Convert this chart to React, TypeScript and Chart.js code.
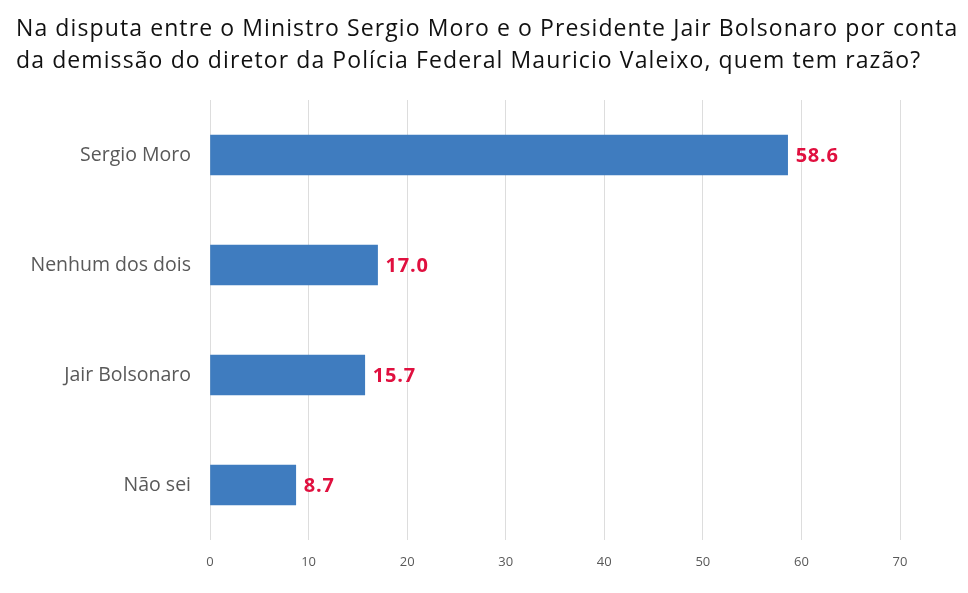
import React, { useEffect, useRef } from "react";
import { Chart, registerables } from "chart.js";

Chart.register(...registerables);

const titleLines = [
  "Na disputa entre o Ministro Sergio Moro e o Presidente Jair Bolsonaro por conta",
  "da demissão do diretor da Polícia Federal Mauricio Valeixo, quem tem razão?",
];
const categories = ["Sergio Moro", "Nenhum dos dois", "Jair Bolsonaro", "Não sei"];
const values = [58.6, 17.0, 15.7, 8.7];
const xTicks = [0, 10, 20, 30, 40, 50, 60, 70];

const FONT = "'Open Sans', Lato, sans-serif";

const titlePlugin = {
  id: "customTitle",
  afterDraw(chart: any) {
    const ctx = chart.ctx;
    ctx.save();
    ctx.font = `23px ${FONT}`;
    (ctx as any).letterSpacing = "1.1px";
    ctx.fillStyle = "#111111";
    ctx.textAlign = "left";
    ctx.textBaseline = "alphabetic";
    titleLines.forEach((line, i) => {
      ctx.fillText(line, 16, 36 + i * 32);
    });
    ctx.restore();
  },
};

const valueLabels = {
  id: "valueLabels",
  afterDatasetsDraw(chart: any) {
    const ctx = chart.ctx;
    const meta = chart.getDatasetMeta(0);
    ctx.save();
    ctx.font = `bold 20px ${FONT}`;
    (ctx as any).letterSpacing = "0.8px";
    ctx.fillStyle = "#e0103f";
    ctx.textAlign = "left";
    ctx.textBaseline = "middle";
    meta.data.forEach((el: any, i: number) => {
      ctx.fillText(values[i].toFixed(1), el.x + 8, el.y + 1);
    });
    ctx.restore();
  },
};

export default function App() {
  const ref = useRef<HTMLCanvasElement>(null);
  useEffect(() => {
    document.body.style.margin = "0";
    const chart = new Chart(ref.current!, {
      type: "bar",
      data: {
        labels: categories,
        datasets: [
          {
            data: values,
            backgroundColor: "#3f7cbf",
            barThickness: 40,
          },
        ],
      },
      plugins: [valueLabels, titlePlugin],
      options: {
        indexAxis: "y",
        animation: false,
        responsive: false,
        maintainAspectRatio: false,
        layout: { padding: { left: 0, right: 68, top: 100, bottom: 0 } },
        plugins: {
          legend: { display: false },
          tooltip: { enabled: false },
          title: { display: false },
        },
        scales: {
          x: {
            min: 0,
            max: 70,
            afterBuildTicks(scale: any) {
              scale.ticks = xTicks.map((v) => ({ value: v }));
            },
            afterFit(scale: any) {
              scale.height = 53;
            },
            grid: { color: "#dddddd", drawTicks: false, lineWidth: 1 },
            border: { display: false },
            ticks: {
              color: "#595959",
              font: { family: FONT, size: 13 },
              padding: 14,
            },
          },
          y: {
            afterFit(scale: any) {
              scale.width = 210;
            },
            grid: { display: false },
            border: { display: false },
            ticks: {
              color: "#595959",
              font: { family: FONT, size: 19.5 },
              padding: 11,
            },
          },
        },
      },
    } as any);
    return () => chart.destroy();
  }, []);
  return (
    <div style={{ width: 968, height: 593 }}>
      <canvas ref={ref} width={968} height={593} style={{ width: 968, height: 593 }} />
    </div>
  );
}
